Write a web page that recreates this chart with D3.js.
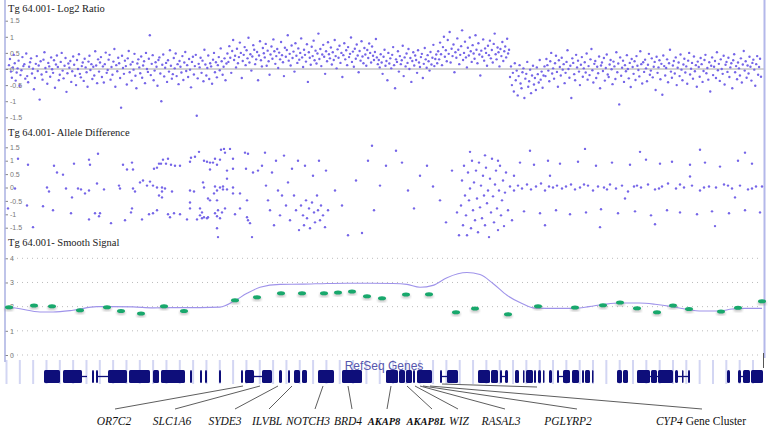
<!DOCTYPE html>
<html><head><meta charset="utf-8">
<script src="https://cdn.jsdelivr.net/npm/d3@7"></script>
<style>body{margin:0;background:#fff} svg{display:block}</style>
</head><body><svg id="c" width="772" height="429"></svg>
<script>
// ---------- DATA ----------
const panelTitles = ["Tg 64.001- Log2 Ratio", "Tg 64.001- Allele Difference", "Tg 64.001- Smooth Signal"];
const ratioTicks = [1.5, 1, 0.5, 0, -0.5, -1, -1.5];
const signalTicks = [4, 3, 2, 1, 0];

// Log2 ratio, probes in genomic order
const log2Ratio = [
0.12,0.31,-0.08,-0.27,0.05,0.44,0.18,-0.36,-0.11,0.02,0.26,-0.52,-0.19,-0.04,0.37,0.09,0.15,-0.3,0.48,-0.22,-0.41,0.07,0.21,0.33,-0.14,0.01,-0.63,-0.28,0.16,0.4,-0.06,0.11,-0.95,0.24,-0.17,-0.33,0.29,0.52,0.03,-0.09,-0.46,0.19,0.08,-0.24,0.36,-0.01,-0.12,0.27,-0.58,0.14,0.42,0.06,-0.35,-0.18,0.22,0.5,-0.05,-0.29,0.1,0.34,-0.71,-0.13,0.17,0.04,0.25,-0.4,-0.07,0.39,0.13,-0.21,-0.5,0.28,0.0,0.46,-0.15,-0.26,0.09,0.2,-0.37,0.32,0.05,-0.1,-0.55,0.23,0.41,-0.03,0.15,-0.31,0.07,-0.2,0.55,0.11,-0.44,0.3,-0.08,
0.2,0.37,-0.25,0.08,-0.42,0.15,0.51,-0.12,-0.03,0.29,0.44,-0.33,0.06,-0.18,0.23,0.62,-0.55,0.12,-0.07,0.35,0.18,-0.28,-1.2,0.41,0.03,-0.15,0.26,0.09,-0.48,0.33,0.56,-0.1,0.14,-0.36,0.22,-0.02,0.47,-0.21,-0.6,0.17,0.3,0.05,-0.13,0.39,-0.27,0.11,0.24,-0.44,0.5,0.0,-0.09,0.32,1.05,-0.19,0.16,0.43,-0.35,-0.05,0.21,0.07,-0.52,0.28,0.36,-0.14,-1.0,0.13,0.45,-0.23,0.04,0.19,-0.4,0.27,-0.08,0.58,0.1,-0.3,-0.16,0.34,0.02,0.48,-0.22,0.15,-0.47,0.25,0.07,-0.11,0.4,-0.34,0.2,0.53,-0.06,0.12,-0.25,0.31,-0.02,-0.57,0.22,0.38,-0.17,0.09,0.44,-1.45,-0.29,0.16,0.05,0.35,-0.12,0.26,-0.38,0.6,0.14,-0.2,0.03,0.42,-0.31,0.18,0.08,-0.46,0.29,0.5,-0.1,0.21,-0.26,0.12,0.37,-0.04,0.64,0.24,-0.18,0.07,0.33,-0.35,0.17,
0.48,0.22,0.71,0.35,-0.12,0.56,0.9,0.28,0.41,0.05,0.63,0.18,0.37,0.82,0.5,-0.28,0.25,0.44,0.68,0.12,0.58,0.33,0.97,0.2,0.46,-0.05,0.39,0.74,0.6,0.15,0.3,0.53,-0.35,0.42,0.86,0.27,0.08,0.65,0.49,0.36,0.78,0.1,0.57,0.24,-0.18,0.45,0.7,0.32,0.92,0.55,0.16,0.4,0.62,0.03,0.51,0.3,0.84,0.43,0.21,-0.22,0.66,0.38,0.59,1.05,0.26,0.47,0.11,0.73,0.34,0.54,-0.08,0.8,0.41,0.19,0.64,0.29,0.5,0.95,0.36,0.06,0.6,0.44,0.23,0.77,-0.4,0.52,0.35,0.13,0.69,0.4,0.88,0.27,0.57,0.17,0.48,1.1,0.31,0.62,0.09,0.45,0.75,0.38,-0.15,0.55,0.24,0.83,0.46,0.33,0.67,0.14,0.52,0.28,0.9,0.4,0.02,0.61,0.35,0.72,0.19,0.5,-0.25,0.43,0.8,0.3,0.58,0.12,0.68,0.37,0.47,0.98,0.22,0.54,0.07,0.63,0.32,0.76,0.42,-0.1,0.56,0.26,0.86,0.39,0.18,0.65,0.45,0.1,0.59,0.34,0.79,0.5,0.2,0.7,0.41,0.28,0.53,0.93,0.36,0.15,
0.28,0.05,0.46,0.2,-0.15,0.38,0.6,0.1,0.25,-0.35,0.5,0.17,0.33,0.02,0.44,0.68,0.12,-0.6,0.3,0.22,0.55,-0.08,0.4,0.15,0.27,0.72,-0.22,0.36,0.08,0.48,0.19,0.62,0.0,0.34,-0.4,0.25,0.52,0.11,0.42,0.28,-0.12,0.58,0.2,0.06,0.37,0.47,-0.28,0.16,0.65,0.3,0.04,0.43,0.24,-0.05,0.53,0.14,0.35,0.75,0.09,0.31,0.45,0.18,
0.55,0.3,0.82,0.46,0.12,0.68,1.0,0.38,0.58,0.24,0.9,0.47,1.15,0.2,0.63,0.4,0.76,-0.1,0.52,0.35,0.95,0.6,0.15,0.44,0.71,1.2,0.28,0.5,0.85,0.36,0.05,0.66,0.42,0.98,0.55,0.22,0.74,0.48,0.32,1.05,0.6,0.18,0.8,0.45,-0.2,0.57,0.38,0.92,0.26,0.64,0.5,0.1,0.72,0.43,0.88,0.33,0.59,0.2,0.78,1.1,0.46,0.3,0.67,0.52,0.08,0.62,0.4,0.84,0.25,0.55,0.7,0.36,0.94,0.48,0.6,
-0.25,0.08,-0.5,-0.12,-0.7,0.18,-0.35,-0.05,-0.82,-0.22,0.12,-0.45,-0.6,-0.1,0.02,-0.9,-0.3,-0.15,0.22,-0.55,-0.38,-0.02,-0.75,-0.2,0.1,-0.48,-0.28,-0.65,0.05,-0.16,-0.42,0.28,-0.33,-0.08,-0.58,-0.2,
0.08,-0.22,0.31,0.12,-0.05,-0.38,0.24,0.5,-0.14,0.02,-0.3,0.18,0.41,-0.09,-0.55,0.27,0.06,-0.2,0.35,-0.02,0.15,-0.44,-0.12,0.22,0.58,0.0,-0.27,0.1,-0.9,0.33,0.19,-0.16,-0.35,0.44,0.05,0.26,-0.08,-0.5,0.13,0.37,-0.24,0.02,0.21,-0.11,0.48,-0.33,0.09,-0.19,0.3,0.62,-0.04,-0.42,0.16,0.25,-0.28,0.07,-0.13,0.39,-0.6,0.11,0.2,-0.06,0.34,-0.36,0.03,0.45,-0.17,-0.25,0.14,0.28,-0.01,-0.47,0.23,0.08,-0.31,0.52,-0.1,0.17,-1.1,0.36,-0.21,0.04,0.26,-0.4,0.12,-0.07,0.43,0.0,-0.29,0.19,-0.56,0.31,0.06,-0.15,0.24,-0.34,0.4,0.1,-0.03,-0.23,0.55,0.15,-0.45,0.21,-0.09,0.29,0.02,-0.38,0.13,0.47,-0.18,-0.05,0.33,-0.26,0.07,0.22,-0.65,0.38,-0.12,0.05,0.27,-0.32,0.16,-0.8,0.42,0.09,-0.2,0.03,0.3,-0.41,0.18,0.6,-0.08,-0.27,0.11,0.25,-0.14,0.36,-0.5,0.04,0.2,-0.22,0.45,-0.02,-0.35,0.14,0.32,-0.11,0.08,-0.46,0.26,0.5,-0.17,0.01,0.19,-0.3,0.39,-0.07,0.12,-0.55,0.23,0.06,-0.24,0.34,0.15,-0.4,-0.06,0.28,0.44,-0.13,0.03,-0.33,0.21,-0.7,0.1,0.36,-0.19,0.07,0.25,-0.28,0.52,-0.04,0.16,-0.37,0.3,0.0,-0.15,0.41,-0.48,0.13,0.22,-0.09,0.35,-0.25,0.05,0.18,-0.6,0.27,0.46,-0.1,0.09,-0.32,0.2,0.02,-0.2,0.33,-0.42,0.14,0.56,-0.05,0.24,-0.27,0.11,-0.14,0.38,0.07,-0.36,0.19,0.29,-0.02,-0.52,0.15,0.4,-0.18,0.06,0.32,-0.24
];

// Allele difference: [position (kb), value]
const alleleDiff = [
[18,1.07],[28,0.85],[15,-0.04],[8,-0.78],[27,-0.67],[33,-1.48],[43,-0.7],[47,0],[49,-0.15],[53,-0.85],[54,0.81],[57,0.56],[63,0.48],[66,-0.04],[72,-0.37],[71,-0.96],[74,0.89],[78,-0.04],[81,-0.07],[85,-0.22],[89,-0.11],[89,1.04],[90,0.85],[89,-1.19],[95,-0.96],[100,-0.96],[99,-1.07],[97,0.15],[98,1.26],[104,-0.07],[111,-1.33],[119,0.07],[120,-0.04],[123,0.85],[127,0.67],[132,0.93],[133,0.67],[125,-1.22],[131,-0.93],[132,-0.78],[133,-0.04],[135,-0.15],[140,0.19],[142,-1.19],[143,0.26],[147,0.07],[150,0.22],[149,-1.0],[153,-0.96],[157,-0.85],[153,0.07],[157,0],[159,-0.3],[162,-0.37],[162,0],[165,-0.04],[162,-0.15],[154,0.7],[157,0.74],[159,0.89],[161,0.89],[163,1.04],[166,0.89],[168,1.07],[171,0.85],[175,0.81],[180,0.81],[168,-1.0],[170,-1.11],[174,-0.96],[172,-0.15],[180,-1.0],[187,-1.19],[190,-0.11],[194,-0.15],[190,0.96],[191,1.11],[195,1.15],[199,1.33],[190,-0.56],[190,-0.78],[197,-1.19],[200,-1.04],[202,-1.15],[204,-1.11],[207,-1.15],[208,-1.11],[200,-0.78],[202,-0.93],[204,1.0],[207,0.96],[210,0.93],[213,0.93],[215,1.07],[217,0.85],[220,1.04],[203,0.19],[204,0],[208,-0.41],[210,-0.48],[215,0.04],[217,-0.11],[220,0],[223,-0.07],[223,0.04],[227,-0.07],[233,0],[233,-0.22],[240,-0.22],[214,-0.22],[217,-0.48],[210,0.67],[215,-0.96],[217,-1.07],[218,-0.85],[220,-1.15],[222,-0.93],[217,-1.52],[218,-1.85],[221,1.41],[224,1.44],[225,1.3],[230,1.44],[227,0.63],[227,0.33],[233,1.07],[233,0.7],[225,-0.78],[240,-0.78],[235,-1.0],[247,-0.48],[245,1.3],[248,1.26],[247,-1.11],[248,-1.22],[250,-1.33],[252,-1.85],[246,0.7],[253,0.56],[258,0.63],
[262,0.81],[265,1.3],[266,0.07],[268,-0.48],[270,-0.85],[272,0.56],[274,-1.41],[276,1.0],[278,-0.11],[280,-1.04],[282,-0.3],[284,1.19],[286,-0.67],[288,0.19],[290,-1.22],[292,0.7],[294,-0.3],[296,-0.85],[298,1.0],[299,-1.59],
[301,-0.67],[303,-1.04],[304,-1.41],[306,-0.48],[307,-1.15],[309,-0.78],[310,-1.52],[312,-0.56],[314,-0.93],[315,-1.3],[317,-0.3],[318,-0.85],[320,-1.22],[321,-0.67],[323,-1.04],[325,-1.48],[326,0.63],[328,-0.85],[305,0.81],[313,0.44],[319,1.0],
[335,-0.11],[342,-0.67],[348,-1.78],[356,0.26],[362,-1.7],[368,1.0],[374,-0.85],[380,0.07],[386,0.81],[372,1.56],
[396,1.37],[402,0.93],[408,-0.11],[414,-0.78],[420,0.44],[427,0.81],[433,0.04],[440,-0.48],[446,-1.3],[452,0.63],[457,-0.93],[459,-1.78],
[461,-0.67],[462,0.26],[463,-1.41],[464,0.81],[465,-0.3],[466,-1.04],[467,-1.78],[468,0.56],[469,-0.48],[470,-0.04],[471,-1.52],[472,1.0],[473,-0.85],[474,0.19],[475,-1.22],[476,0.63],[477,-0.41],[478,-1.67],[479,0.93],[480,-0.74],[481,0.07],[482,-1.15],[483,0.44],[484,-0.3],[485,-1.41],[486,0.74],[487,-0.59],[488,-0.11],[489,-1.85],[490,0.33],[491,-0.93],[492,1.07],[493,-0.33],[494,-1.3],[495,0.11],[496,0.63],[497,-0.78],[498,-1.59],[499,-0.11],[500,0.81],[501,-1.04],[502,-0.48],[503,0.26],[504,-1.44],[505,-0.19],[506,0.56],[508,-0.85],[510,0.04],[512,-1.22],[514,0.44],[470,1.33],[485,1.2],[498,1.0],
[518,0.07],[522,-0.04],[527,0.11],[531,-0.07],[536,0.04],[541,0.15],[545,-0.11],[553,0.0],[557,0.07],[562,-0.04],[566,0.04],[571,0.11],[575,-0.07],[580,0.0],[588,0.07],[593,-0.11],[598,0.04],[604,0.0],[610,0.11],[616,-0.04],[622,0.07],[628,-0.15],[634,0.04],[641,0.0],[648,0.11],[655,-0.07],[662,0.04],[668,0.15],[676,-0.04],[684,0.0],[692,0.07],[700,-0.11],[709,0.04],[716,0.0],[724,0.11],[732,-0.04],[740,0.07],[748,-0.07],[756,0.04],
[514,-0.11],[549,0.04],[584,0.11],[607,-0.07],[637,0.07],[659,-0.04],[680,0.11],[704,0.0],[728,0.07],[752,-0.04],[762,0.04],
[520,0.93],[534,0.85],[548,1.0],[560,0.89],[578,0.96],[596,0.81],[612,0.93],[630,0.85],[646,1.04],[660,0.89],[672,0.96],[690,0.85],[705,0.93],[720,0.78],[738,1.0],[752,0.89],
[524,-0.89],[540,-0.96],[556,-0.85],[570,-1.0],[586,-0.93],[601,-0.81],[618,-0.96],[635,-0.89],[651,-1.04],[667,-0.85],[680,-0.93],[697,-1.0],[712,-0.89],[729,-0.96],[745,-0.85],[760,-0.93],
[530,1.37],[585,1.44],[640,1.33],[700,1.41],[745,1.3],
[545,-1.41],[600,-1.48],[655,-1.37],[715,-1.44],
[550,0.44],[625,-0.41],[690,0.41],[735,-0.37]
];

// Smooth signal curve: [position (kb), value]
const smoothCurve = [[7,2.0],[20,1.91],[40,1.78],[53,1.78],[73,1.85],[97,2.0],[110,2.0],[133,1.99],[153,1.95],[173,1.96],[200,1.96],[220,1.98],[233,2.2],[247,2.55],[260,2.8],[280,2.92],[303,2.93],[327,2.96],[347,2.97],[370,2.97],[393,2.96],[407,2.92],[420,2.8],[433,2.88],[447,3.2],[467,3.41],[480,3.33],[493,2.96],[507,2.47],[522,2.13],[535,1.94],[559,1.93],[575,1.93],[589,2.0],[605,2.1],[620,2.15],[639,2.15],[655,2.1],[672,2.0],[685,1.9],[702,1.82],[719,1.82],[732,1.9],[745,1.93],[762,1.93]];
// Segment copy-number markers: [position (kb), value]
const segmentMarkers = [[9,1.98],[34,2.05],[52,2.02],[80,1.85],[107,1.98],[121,1.82],[141,1.72],[164,2.02],[184,1.82],[235,2.26],[257,2.39],[281,2.55],[302,2.55],[324,2.55],[338,2.59],[352,2.63],[367,2.43],[382,2.35],[406,2.5],[429,2.51],[456,1.77],[475,1.92],[508,1.69],[538,2.02],[575,1.97],[603,2.06],[620,2.17],[637,1.93],[657,1.77],[673,2.05],[689,1.9],[721,1.8],[738,1.95],[762,2.22]];

// RefSeq gene exons and introns: [start kb, end kb]
const geneExons = [[44,60],[63,82],[92,94],[96,98],[108,127],[129,150],[153,159],[161,185],[190,192],[200,202],[205,207],[219,221],[241,243],[245,254],[262,272],[279,282],[288,290],[294,300],[302,307],[318,334],[342,362],[386,398],[399,405],[406,412],[413,415],[417,432],[440,442],[447,458],[478,490],[491,498],[500,502],[505,508],[515,519],[523,524],[526,533],[534,536],[538,541],[543,544],[549,552],[557,559],[563,570],[572,579],[582,584],[585,590],[592,593],[617,622],[623,628],[637,650],[651,657],[658,673],[675,678],[682,683],[688,690],[727,730],[738,741],[743,750],[751,763]];
const geneIntrons = [[82,87],[98,108],[254,262],[442,447],[502,505],[559,563],[650,658],[678,690],[741,745]];

// Gene labels: name, label centre (kb), leader start (kb), gene target (kb), bold
const labelNames  = ["OR7C2","SLC1A6","SYDE3","ILVBL","NOTCH3","BRD4","AKAP8","AKAP8L","WIZ","RASAL3","PGLYRP2","CYP4"];
const labelPos    = [114,172,225,267,308,348,384,426,459,501,568,701];
const leaderFrom  = [115,175,235,269,315,352,387,432,458,505,577,702];
const leaderTo    = [243,260,278,292,323,348,391,407,415,420,423,430];
const labelBold   = [false,false,false,false,false,false,true,true,false,false,false,false];
const bracketSpan = [442,537];

// ---------- DRAW ----------
const svg = d3.select('#c');
svg.append('rect').attr('width',772).attr('height',429).attr('fill','#fff');

const xIdx = d3.scaleLinear().domain([0, log2Ratio.length-1]).range([9, 761]);
const xPos = d3.scaleLinear().domain([5,765]).range([5,765]);
const yTop = d3.scaleLinear().domain([-1.5,1.5]).range([117.3,20.7]);
const yMid = d3.scaleLinear().domain([-1.5,1.5]).range([227.7,147.3]);
const yBot = d3.scaleLinear().domain([0,4]).range([355,258.3]);

const serif = '"Liberation Serif","Times New Roman",serif';
const sans = '"Liberation Sans",Arial,sans-serif';

// gene-track tick stripes
svg.append('g').selectAll('line').data(d3.range(6.5, 765, 13.33)).join('line')
  .attr('x1',d=>d).attr('x2',d=>d).attr('y1',360).attr('y2',384)
  .attr('stroke','#d3d6f3').attr('stroke-width',2);

// grid for smooth signal
svg.append('g').selectAll('line').data(signalTicks).join('line')
  .attr('x1',12).attr('x2',762).attr('y1',d=>yBot(d)).attr('y2',d=>yBot(d))
  .attr('stroke','#aaa').attr('stroke-width',0.8).attr('stroke-dasharray','1,4');

// zero line top panel
svg.append('line').attr('x1',5).attr('x2',764).attr('y1',yTop(0)).attr('y2',yTop(0))
  .attr('stroke','#a8a8a8').attr('stroke-width',1);

// axes
function leftAxis(y, ticks){
  const g = svg.append('g').attr('transform','translate(5,0)')
    .call(d3.axisRight(y).tickValues(ticks).tickSize(3).tickPadding(2).tickFormat(d=>String(d)));
  g.select('.domain').remove();
  g.selectAll('line').attr('stroke','#888');
  g.selectAll('text').attr('fill','#777').style('font-size','7px').style('font-family',sans);
}
leftAxis(yTop, ratioTicks);
leftAxis(yMid, ratioTicks);
leftAxis(yBot, signalTicks);

// frame lines
svg.append('line').attr('x1',5).attr('x2',5).attr('y1',0).attr('y2',362).attr('stroke','#aab0e2').attr('stroke-width',1.5);
svg.append('line').attr('x1',764.5).attr('x2',764.5).attr('y1',0).attr('y2',358).attr('stroke','#b4b8ea').attr('stroke-width',2);
svg.append('line').attr('x1',763.5).attr('x2',763.5).attr('y1',353).attr('y2',368).attr('stroke','#555').attr('stroke-width',1);

// titles
const titleY = [12, 135.5, 246];
svg.append('g').selectAll('text').data(panelTitles).join('text')
  .attr('x',8).attr('y',(d,i)=>titleY[i]).text(d=>d)
  .attr('fill','#1a1a1a').style('font-family',serif).style('font-size','10.5px');

// scatter: log2 ratio
svg.append('g').selectAll('circle').data(log2Ratio).join('circle')
  .attr('cx',(d,i)=>xIdx(i)).attr('cy',d=>yTop(d)).attr('r',1.2)
  .attr('fill','#7565e8');

// scatter: allele difference
svg.append('g').selectAll('circle').data(alleleDiff).join('circle')
  .attr('cx',d=>xPos(d[0])).attr('cy',d=>yMid(d[1])).attr('r',1.2)
  .attr('fill','#7565e8');

// smooth line
svg.append('path').datum(smoothCurve)
  .attr('d', d3.line().x(d=>xPos(d[0])).y(d=>yBot(d[1])).curve(d3.curveMonotoneX))
  .attr('fill','none').attr('stroke','#9f93ea').attr('stroke-width',1.1);

// markers with shadow
const defs = svg.append('defs');
defs.append('filter').attr('id','blur').append('feGaussianBlur').attr('stdDeviation',0.9);
svg.append('g').selectAll('ellipse').data(segmentMarkers).join('ellipse')
  .attr('cx',d=>xPos(d[0])).attr('cy',d=>yBot(d[1])+1.8).attr('rx',4.5).attr('ry',2.2)
  .attr('fill','#888').attr('opacity',0.45).attr('filter','url(#blur)');
svg.append('g').selectAll('ellipse').data(segmentMarkers).join('ellipse')
  .attr('cx',d=>xPos(d[0])).attr('cy',d=>yBot(d[1])).attr('rx',4).attr('ry',2)
  .attr('fill','#18a86c');

// RefSeq label
svg.append('text').attr('x',384).attr('y',370).attr('text-anchor','middle')
  .text('RefSeq Genes').attr('fill','#5656ae').style('font-family',sans).style('font-size','12px');

// genes
const gy = 370, gh = 13;
svg.append('g').selectAll('line').data(geneIntrons).join('line')
  .attr('x1',d=>xPos(d[0])).attr('x2',d=>xPos(d[1])).attr('y1',gy+gh/2).attr('y2',gy+gh/2)
  .attr('stroke','#0e0e7a').attr('stroke-width',1.3);
svg.append('g').selectAll('rect').data(geneExons).join('rect')
  .attr('x',d=>xPos(d[0])).attr('width',d=>Math.max(1.5,xPos(d[1])-xPos(d[0])))
  .attr('y',gy).attr('height',gh).attr('rx',1.5)
  .attr('fill','#0e0e7a');

// leader lines
svg.append('g').selectAll('line').data(labelNames).join('line')
  .attr('x1',(d,i)=>xPos(leaderFrom[i])).attr('y1',409)
  .attr('x2',(d,i)=>xPos(leaderTo[i])).attr('y2',386)
  .attr('stroke','#333').attr('stroke-width',0.8);
svg.append('line').attr('x1',xPos(bracketSpan[0])).attr('x2',xPos(bracketSpan[1]))
  .attr('y1',384).attr('y2',387).attr('stroke','#333').attr('stroke-width',0.8);

// gene labels
const lab = svg.append('g').selectAll('text').data(labelNames).join('text')
  .attr('x',(d,i)=>xPos(labelPos[i])).attr('y',425).attr('text-anchor','middle')
  .style('font-family',serif).style('font-size',(d,i)=>labelBold[i]?'10.5px':'11.5px').attr('fill','#111')
  .style('font-weight',(d,i)=>labelBold[i]?'bold':'normal');
lab.append('tspan').style('font-style','italic').text(d=>d);
lab.filter(d=>d==='CYP4').append('tspan').style('font-style','normal').text(' Gene Cluster');
</script></body></html>
